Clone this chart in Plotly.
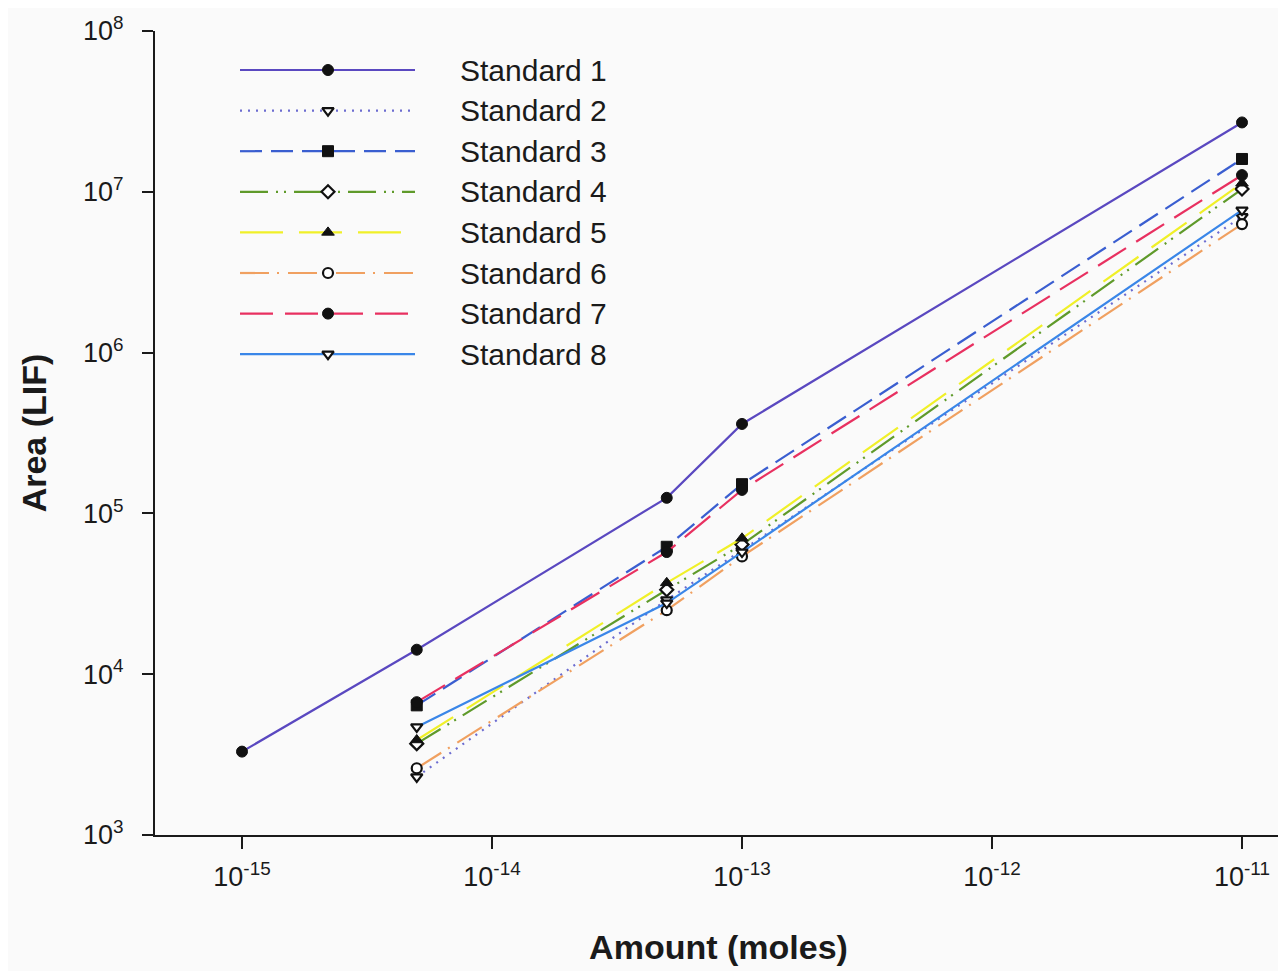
import plotly.graph_objects as go

# ---- data ----
amount = [5e-15, 5e-14, 1e-13, 1e-11]
amount_std1 = [1e-15, 5e-15, 5e-14, 1e-13, 1e-11]

names = ["Standard 1", "Standard 2", "Standard 3", "Standard 4",
         "Standard 5", "Standard 6", "Standard 7", "Standard 8"]

std1 = [3.3e3, 1.42e4, 1.25e5, 3.6e5, 2.7e7]
std2 = [2.3e3, 2.9e4, 5.9e4, 7.0e6]
std3 = [6.4e3, 6.2e4, 1.52e5, 1.6e7]
std4 = [3.7e3, 3.35e4, 6.4e4, 1.04e7]
std5 = [3.9e3, 3.7e4, 7.0e4, 1.13e7]
std6 = [2.6e3, 2.5e4, 5.4e4, 6.3e6]
std7 = [6.7e3, 5.75e4, 1.4e5, 1.27e7]
std8 = [4.7e3, 2.77e4, 5.75e4, 7.7e6]

x_tickvals = [1e-15, 1e-14, 1e-13, 1e-12, 1e-11]
x_ticktext = ["10<sup>-15</sup>", "10<sup>-14</sup>", "10<sup>-13</sup>",
              "10<sup>-12</sup>", "10<sup>-11</sup>"]
y_tickvals = [1e3, 1e4, 1e5, 1e6, 1e7, 1e8]
y_ticktext = ["10<sup>3</sup>", "10<sup>4</sup>", "10<sup>5</sup>",
              "10<sup>6</sup>", "10<sup>7</sup>", "10<sup>8</sup>"]

xs = [amount_std1] + [amount] * 7
ys = [std1, std2, std3, std4, std5, std6, std7, std8]

# ---- styles ----
colors = ["#5a48c0", "#6c6cd0", "#3a5ed0", "#5f9a2a",
          "#f0f028", "#f0a060", "#e83060", "#3a86e8"]
dashes = ["solid", "2px,6px", "22px,9px", "28px,8px,2px,6px,2px,8px",
          "43px,16px", "29px,8px,2px,9px", "33px,12px", "solid"]
symbols = ["circle", "triangle-down", "square", "diamond",
           "triangle-up", "circle", "circle", "triangle-down"]
filled = [True, False, True, False, True, False, True, False]

FONT = "Arial, Liberation Sans, Helvetica, sans-serif"

fig = go.Figure()

def marker_style(i, size=11):
    if filled[i]:
        return dict(symbol=symbols[i], size=size, color="#111111",
                    line=dict(color="#111111", width=1))
    return dict(symbol=symbols[i], size=size - 1, color="white",
                line=dict(color="#111111", width=2.2))

for i in range(8):
    fig.add_trace(go.Scatter(
        x=xs[i], y=ys[i], mode="lines+markers", name=names[i],
        line=dict(color=colors[i], width=2.2, dash=dashes[i]),
        marker=marker_style(i), showlegend=False))

# page offset (body margin) and layout in reference pixel coords
OFF = 8
W, H = 1286 - OFF, 971 - OFF
PL, PR, PT, PB = 155, 1282, 31, 835   # plot area in reference pixels
L, R, T, B = PL - OFF, W - (PR - OFF), PT - OFF, H - (PB - OFF)

# ---- custom legend drawn on an overlay axis in reference pixel coords ----
for i in range(8):
    yy = 70 + 40.6 * i
    fig.add_trace(go.Scatter(
        x=[240, 415], y=[yy, yy], mode="lines", xaxis="x2", yaxis="y2",
        line=dict(color=colors[i], width=2.2, dash=dashes[i]),
        showlegend=False, hoverinfo="skip"))
    fig.add_trace(go.Scatter(
        x=[328], y=[yy], mode="markers", xaxis="x2", yaxis="y2",
        marker=marker_style(i), showlegend=False, hoverinfo="skip"))
    fig.add_annotation(x=458, y=yy, xref="x2", yref="y2", text=names[i],
                       showarrow=False, xanchor="left", yanchor="middle",
                       font=dict(family=FONT, size=30, color="#1a1a1a"))

fig.update_layout(
    width=W, height=H,
    margin=dict(l=L, r=R, t=T, b=B),
    paper_bgcolor="#fafafa", plot_bgcolor="#fafafa",
    font=dict(family=FONT, color="#1a1a1a"),
    xaxis=dict(
        type="log", range=[-15 - (242 - PL) / 250, -15 + (PR - 242) / 250],
        tickvals=x_tickvals, ticktext=x_ticktext,
        showgrid=False, zeroline=False,
        showline=True, linecolor="#1a1a1a", linewidth=2,
        ticks="outside", ticklen=12, tickwidth=2, tickcolor="#1a1a1a",
        tickfont=dict(size=27, family=FONT), ticklabelstandoff=5,
        title=dict(text="<b>Amount (moles)</b>", font=dict(size=34, family=FONT),
                   standoff=44),
    ),
    yaxis=dict(
        type="log", range=[3, 8],
        tickvals=y_tickvals, ticktext=y_ticktext,
        showgrid=False, zeroline=False,
        showline=True, linecolor="#1a1a1a", linewidth=2,
        ticks="outside", ticklen=11, tickwidth=2, tickcolor="#1a1a1a",
        tickfont=dict(size=27, family=FONT), ticklabelstandoff=13,
        title=dict(text="<b>Area (LIF)</b>", font=dict(size=34, family=FONT),
                   standoff=26),
    ),
    xaxis2=dict(overlaying="x", anchor="y2", range=[PL, PR], visible=False),
    yaxis2=dict(overlaying="y", anchor="x2", range=[PB, PT], visible=False),
)

fig.write_html("out.html")
